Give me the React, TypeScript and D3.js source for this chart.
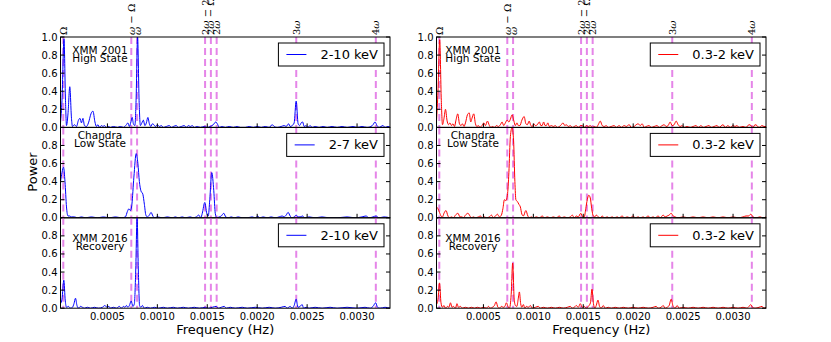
import React from "react";
import * as d3 from "d3";

// frequencies below are in units of 1e-5 Hz
const FREQ_UNIT = 1e-5;
const freqDomain = [3, 333];
const harmonicFreqs = [5.8, 73.9, 79.7, 147.8, 153.6, 159.4, 239.1, 318.8];
const harmonicLabels = [
  [["Ω", false]],
  [["ω", true], [" − Ω", false]],
  [["ω", true]],
  [["2", false], ["ω", true], [" − 2Ω", false]],
  [["2", false], ["ω", true], [" − Ω", false]],
  [["2", false], ["ω", true]],
  [["3", false], ["ω", true]],
  [["4", false], ["ω", true]],
] as [string, boolean][][];
const xTicks = [0.0005, 0.001, 0.0015, 0.002, 0.0025, 0.003];
const yTicksTop = [0, 0.2, 0.4, 0.6, 0.8, 1.0];
const yTicksLower = [0, 0.2, 0.4, 0.6, 0.8];

const panelTitles = [
  ["XMM 2001", "High State"],
  ["Chandra", "Low State"],
  ["XMM 2016", "Recovery"],
];
const hardBands = ["2-10 keV", "2-7 keV", "2-10 keV"];
const softBands = ["0.3-2 keV", "0.3-2 keV", "0.3-2 keV"];

const xmm2001Hard: [number, number][] = [[3,0.05],[4.5,0.3],[6.5,0.98],[8,0.3],[9,0.02],[10.5,0.15],[12.3,0.45],[14,0.1],[15,0.01],[17,0.03],[19,0.01],[21,0.08],[22.5,0.1],[24,0.05],[25.5,0.1],[27,0.02],[29,0.01],[31,0.05],[33.5,0.15],[35.5,0.18],[37.5,0.06],[39,0.01],[40.5,0.03],[42,0.0],[44,0.02],[45.5,0.01],[47,0.02],[49,0.0],[51,0.01],[53,0.0],[56,0.01],[60,0.0],[63,0.01],[66,0.0],[69,0.03],[70.5,0.05],[72,0.01],[73.5,0.06],[74.8,0.11],[76,0.04],[77.5,0.02],[78.7,0.3],[80.2,1.0],[81.7,0.3],[83,0.02],[84.5,0.05],[86,0.08],[87.5,0.02],[89,0.05],[90.5,0.11],[92,0.04],[93.5,0.01],[95,0.04],[96.5,0.03],[98,0.01],[100,0.03],[102,0.01],[104,0.02],[106,0.0],[109,0.01],[112,0.02],[114,0.0],[116,0.01],[119,0.02],[121,0.0],[124,0.01],[127,0.02],[129,0.0],[131,0.02],[133,0.01],[135,0.02],[137,0.0],[140,0.01],[143,0.0],[147,0.01],[150,0.0],[153,0.01],[156,0.03],[158.5,0.06],[160.5,0.03],[162,0.0],[165,0.01],[168,0.0],[172,0.01],[176,0.0],[180,0.01],[183,0.0],[188,0.0],[192,0.01],[196,0.0],[200,0.01],[204,0.0],[208,0.01],[212,0.0],[215,0.03],[217,0.01],[220,0.0],[224,0.01],[227,0.02],[229,0.01],[231.5,0.04],[233,0.01],[235,0.02],[237,0.05],[239,0.29],[241,0.04],[242.5,0.02],[244,0.05],[245.5,0.06],[247,0.01],[249,0.02],[250.5,0.0],[253,0.02],[255,0.0],[258,0.01],[262,0.0],[266,0.01],[270,0.0],[275,0.01],[280,0.0],[285,0.01],[290,0.0],[296,0.01],[300,0.0],[305,0.01],[310,0.0],[314,0.01],[316,0.03],[318,0.06],[320,0.02],[322,0.0],[326,0.02],[328,0.0],[331,0.01],[333,0.0]];

const chandraHard: [number, number][] = [[3,0.4],[4.5,0.5],[6,0.56],[7.5,0.4],[9,0.12],[10.5,0.02],[12,0.02],[14,0.01],[17,0.01],[20,0.0],[24,0.01],[28,0.0],[34,0.01],[40,0.0],[46,0.01],[52,0.0],[58,0.01],[64,0.0],[68,0.01],[70,0.07],[71.5,0.1],[73,0.08],[74.5,0.15],[76.5,0.45],[78.8,0.71],[80.5,0.6],[82,0.4],[83.5,0.3],[85.5,0.26],[87,0.15],[88.5,0.03],[90,0.01],[92,0.03],[93.7,0.06],[95.5,0.02],[97,0.0],[100,0.01],[105,0.0],[110,0.01],[115,0.0],[118,0.01],[121,0.0],[125,0.01],[128,0.0],[133,0.01],[136,0.0],[139,0.01],[141.5,0.03],[143.5,0.0],[145,0.05],[147.5,0.17],[149.5,0.05],[151,0.02],[152.5,0.2],[154.5,0.5],[156.5,0.3],[158,0.05],[159.5,0.0],[162,0.01],[164,0.02],[166.5,0.05],[168.5,0.01],[171,0.0],[174,0.01],[177,0.0],[181,0.01],[185,0.0],[190,0.0],[195,0.01],[198,0.0],[200.5,0.02],[202.5,0.0],[206,0.01],[210,0.0],[214,0.01],[218,0.0],[222,0.01],[225,0.02],[227,0.01],[229,0.03],[231,0.06],[233,0.02],[235,0.0],[237,0.01],[239,0.03],[241,0.01],[243,0.01],[245.5,0.02],[247.5,0.0],[252,0.01],[258,0.0],[265,0.01],[272,0.0],[280,0.0],[290,0.01],[298,0.0],[305,0.01],[309,0.02],[312,0.0],[316,0.01],[319,0.02],[322,0.0],[327,0.01],[333,0.0]];

const xmm2016Hard: [number, number][] = [[3,0.05],[4.5,0.1],[6.3,0.31],[7.8,0.08],[9,0.01],[11,0.02],[13,0.0],[15,0.01],[16.5,0.05],[18,0.11],[19.5,0.03],[21,0.0],[23,0.02],[25,0.01],[27,0.0],[30,0.01],[33,0.0],[37,0.01],[41,0.0],[45,0.01],[47.5,0.03],[49.5,0.01],[51.5,0.02],[53,0.0],[56,0.01],[59,0.0],[62,0.02],[64,0.0],[66,0.02],[67.5,0.01],[69,0.03],[70.5,0.01],[72,0.03],[73.8,0.08],[75.5,0.02],[77,0.05],[78.3,0.4],[79.7,1.0],[81,0.4],[82.2,0.03],[83.5,0.01],[85,0.03],[87,0.0],[90,0.01],[93,0.0],[97,0.01],[101,0.0],[106,0.01],[110,0.0],[116,0.01],[120,0.0],[126,0.01],[131,0.0],[137,0.01],[142,0.0],[148,0.01],[151,0.0],[155,0.01],[159,0.02],[161,0.0],[164,0.01],[167,0.02],[169,0.0],[173,0.01],[178,0.0],[185,0.01],[190,0.0],[198,0.01],[205,0.0],[212,0.01],[218,0.0],[224,0.01],[228,0.02],[230,0.0],[233,0.02],[235,0.0],[237,0.03],[239,0.1],[240.8,0.01],[243,0.02],[245,0.04],[246.5,0.0],[249,0.01],[252,0.0],[258,0.01],[265,0.0],[273,0.01],[280,0.0],[290,0.01],[300,0.0],[308,0.01],[313,0.0],[316,0.02],[318.7,0.06],[320.5,0.01],[323,0.0],[328,0.01],[333,0.0]];

const xmm2001Soft: [number, number][] = [[3,0.07],[4.5,0.4],[6.2,0.97],[7.8,0.3],[9,0.03],[10.5,0.1],[12,0.2],[13.5,0.08],[15,0.03],[16.5,0.05],[18,0.02],[19.5,0.04],[21,0.01],[22.5,0.08],[24.3,0.15],[26,0.04],[27.5,0.02],[29,0.04],[30.5,0.01],[32,0.05],[34,0.14],[35.8,0.16],[37.3,0.06],[38.5,0.1],[40.3,0.15],[42,0.04],[43.5,0.01],[45,0.02],[46.5,0.0],[48.5,0.02],[50.5,0.05],[52,0.02],[54,0.07],[56,0.02],[57.5,0.0],[59,0.01],[61,0.0],[63,0.02],[65,0.01],[67,0.03],[68.7,0.06],[70.3,0.02],[72,0.05],[73.7,0.08],[75.5,0.06],[77,0.09],[78.7,0.14],[80.5,0.07],[82,0.02],[83.5,0.05],[85,0.02],[86.5,0.02],[88.5,0.08],[90.8,0.12],[92.5,0.04],[94,0.03],[95.8,0.07],[97.5,0.02],[99,0.01],[100.5,0.04],[102,0.02],[104,0.03],[106,0.06],[107.5,0.02],[108.8,0.02],[110.3,0.06],[111.8,0.02],[113,0.02],[114.5,0.05],[116,0.01],[118,0.02],[120,0.01],[122,0.02],[124,0.0],[126,0.01],[128,0.03],[129.7,0.05],[131.5,0.02],[133,0.03],[135,0.01],[137,0.02],[139,0.0],[141,0.01],[143,0.02],[145,0.0],[147,0.02],[149,0.02],[151,0.0],[153,0.02],[155,0.01],[157,0.02],[159,0.0],[161,0.01],[163,0.0],[165,0.03],[167,0.07],[169,0.02],[171,0.01],[173,0.02],[175,0.0],[178,0.01],[181,0.02],[183,0.0],[186,0.02],[188,0.0],[191,0.02],[193,0.01],[196,0.03],[198,0.0],[201,0.01],[203,0.03],[205,0.04],[207,0.02],[209,0.04],[211,0.0],[213,0.01],[216,0.02],[218,0.0],[221,0.01],[224,0.02],[226,0.0],[229,0.02],[231,0.03],[233,0.01],[235,0.02],[237,0.06],[239,0.02],[241,0.03],[243,0.07],[245,0.03],[247,0.01],[249,0.02],[251,0.0],[254,0.01],[257,0.0],[260,0.01],[263,0.02],[265,0.0],[268,0.02],[270,0.0],[273,0.01],[276,0.02],[278,0.0],[281,0.01],[284,0.02],[286,0.0],[290,0.03],[292,0.0],[295,0.02],[297,0.0],[300,0.02],[302,0.01],[304,0.02],[306,0.0],[310,0.01],[313,0.0],[316,0.03],[318,0.02],[320,0.0],[322,0.03],[324,0.02],[326,0.0],[329,0.02],[331,0.01],[333,0.01]];

const chandraSoft: [number, number][] = [[3,0.12],[4.5,0.1],[6,0.06],[7.5,0.02],[9,0.01],[10.5,0.05],[12.5,0.08],[14.5,0.02],[16,0.0],[18,0.01],[20,0.0],[22,0.03],[24.5,0.05],[26.5,0.01],[28.5,0.01],[30,0.0],[32,0.03],[34.5,0.05],[36.5,0.02],[38,0.0],[40,0.01],[42,0.0],[45,0.01],[47,0.02],[49,0.0],[51,0.01],[53,0.0],[56,0.01],[58,0.03],[60,0.0],[62,0.02],[64,0.04],[66,0.01],[68,0.03],[69.5,0.1],[71,0.2],[72.5,0.19],[74,0.25],[75.5,0.5],[77,0.9],[78.7,1.0],[80.2,0.85],[81.5,0.4],[82.5,0.2],[84,0.18],[85.5,0.15],[87,0.12],[88.5,0.04],[90,0.02],[92.5,0.08],[94.5,0.02],[96,0.0],[98,0.01],[100,0.0],[103,0.01],[106,0.0],[109,0.02],[111,0.0],[114,0.01],[117,0.0],[120,0.01],[123,0.0],[126,0.02],[128,0.0],[131,0.01],[134,0.0],[137,0.01],[139,0.03],[141,0.0],[143,0.02],[145,0.01],[147.5,0.05],[149.5,0.01],[151,0.01],[152.5,0.1],[154,0.2],[155.5,0.25],[157,0.22],[158.5,0.1],[160,0.02],[161.5,0.01],[163,0.03],[165,0.01],[167,0.0],[169,0.02],[171,0.0],[174,0.01],[176,0.0],[179,0.01],[181,0.0],[184,0.01],[186,0.0],[189,0.02],[191,0.0],[194,0.01],[197,0.0],[200,0.02],[202,0.0],[205,0.01],[207,0.0],[210,0.01],[212,0.0],[215,0.02],[217,0.0],[220,0.01],[222,0.0],[225,0.02],[227,0.0],[230,0.03],[232,0.01],[234,0.02],[236,0.03],[238,0.05],[240,0.02],[242,0.01],[245,0.0],[250,0.01],[255,0.0],[260,0.01],[265,0.0],[270,0.01],[275,0.0],[280,0.01],[285,0.0],[290,0.01],[295,0.0],[300,0.01],[305,0.0],[310,0.01],[313,0.02],[315.5,0.02],[317.8,0.04],[320,0.01],[323,0.0],[327,0.01],[330,0.0],[333,0.01]];

const xmm2016Soft: [number, number][] = [[3,0.04],[4.5,0.1],[6,0.28],[7.5,0.06],[9,0.01],[10.5,0.03],[12,0.0],[14,0.02],[15.5,0.01],[17,0.06],[18.5,0.01],[20,0.02],[22,0.0],[23.5,0.05],[25,0.01],[27,0.02],[29,0.0],[32,0.01],[35,0.0],[38,0.01],[41,0.0],[44,0.01],[47,0.0],[50,0.01],[53,0.0],[55,0.02],[57,0.0],[59,0.01],[61,0.03],[62.7,0.07],[64.5,0.01],[66,0.0],[68,0.02],[70,0.01],[71.5,0.02],[73,0.06],[74.5,0.02],[76,0.0],[77.8,0.15],[79.3,0.5],[80.8,0.1],[82,0.03],[83.5,0.02],[84.8,0.1],[86,0.18],[87.3,0.05],[88.5,0.01],[90,0.04],[91.5,0.0],[93,0.02],[95,0.01],[97,0.03],[99,0.0],[102,0.01],[105,0.02],[107,0.0],[110,0.01],[114,0.0],[118,0.01],[122,0.0],[126,0.01],[130,0.0],[134,0.01],[137,0.02],[139,0.0],[141,0.01],[143,0.03],[145,0.01],[147,0.05],[149,0.01],[151,0.02],[153,0.0],[155,0.02],[157.2,0.06],[158.7,0.21],[160.2,0.05],[161.5,0.0],[163,0.03],[164.7,0.09],[166.3,0.02],[168,0.0],[170,0.03],[172,0.0],[175,0.01],[178,0.0],[182,0.01],[186,0.0],[190,0.01],[195,0.0],[200,0.01],[205,0.0],[210,0.01],[215,0.0],[220,0.01],[223,0.02],[225,0.0],[228,0.01],[230,0.03],[232,0.0],[234,0.01],[236,0.03],[238,0.1],[240,0.02],[242,0.0],[244,0.03],[246,0.0],[250,0.01],[255,0.0],[260,0.01],[265,0.0],[270,0.01],[275,0.0],[280,0.01],[285,0.0],[290,0.01],[295,0.0],[300,0.01],[305,0.0],[310,0.01],[314,0.0],[316,0.02],[317.7,0.04],[319.5,0.01],[322,0.0],[326,0.01],[329,0.02],[331,0.0],[333,0.01]];

const hardSeries = [xmm2001Hard, chandraHard, xmm2016Hard];
const softSeries = [xmm2001Soft, chandraSoft, xmm2016Soft];

const FONT = "DejaVu Sans, sans-serif";
const TOP = 37;
const PH = 90.4;
const titleBaselines = [[17, 25], [11.7, 19.7], [24.3, 32]];
const DASH_COLOR = "#e585e8";

function measure(text: string, size: number) {
  const c = document.createElement("canvas").getContext("2d");
  if (!c) return text.length * size * 0.6;
  c.font = `${size}px DejaVu Sans`;
  return c.measureText(text).width;
}

function Chart({ id, left, right, series, bands, color, titleDx, showYLabel }: any) {
  const x = d3.scaleLinear().domain(freqDomain.map((d) => d * FREQ_UNIT)).range([left, right]);
  const panels = [0, 1, 2];
  return (
    <g>
      {panels.map((i) => {
        const top = TOP + i * PH;
        const bottom = top + PH;
        const y = d3.scaleLinear().domain([0, 1]).range([bottom, top]);
        const line = d3
          .line<[number, number]>()
          .x((d) => x(d[0] * FREQ_UNIT))
          .y((d) => y(d[1]))
          .curve(d3.curveMonotoneX);
        const yTicks = i === 0 ? yTicksTop : yTicksLower;
        const label = bands[i];
        const tw = measure(label, 13);
        const boxR = right - 6;
        const textEnd = boxR - 6;
        const textStart = textEnd - tw;
        const hEnd = textStart - 14;
        const hStart = hEnd - 20;
        const boxL = hStart - 8;
        const boxT = top + 6;
        const boxH = 23;
        const cx = left + titleDx;
        return (
          <g key={i}>
            <clipPath id={`${id}-clip-${i}`}>
              <rect x={left} y={top} width={right - left} height={PH} />
            </clipPath>
            {harmonicFreqs.map((f, k) => (
              <line
                key={k}
                x1={x(f * FREQ_UNIT)}
                x2={x(f * FREQ_UNIT)}
                y1={top}
                y2={bottom}
                stroke={DASH_COLOR}
                strokeWidth={2}
                strokeDasharray="7,4"
              />
            ))}
            <path
              d={line(series[i]) || ""}
              fill="none"
              stroke={color}
              strokeWidth={1}
              clipPath={`url(#${id}-clip-${i})`}
            />
            <rect x={left} y={top} width={right - left} height={PH} fill="none" stroke="#000" strokeWidth={1} />
            {yTicks.map((t) => (
              <g key={t}>
                <line x1={left} x2={left + 4} y1={y(t)} y2={y(t)} stroke="#000" />
                <line x1={right - 4} x2={right} y1={y(t)} y2={y(t)} stroke="#000" />
                <text
                  x={left - 3}
                  y={y(t)}
                  dy="0.35em"
                  textAnchor="end"
                  fontSize={10}
                  fontFamily={FONT}
                >
                  {t.toFixed(1)}
                </text>
              </g>
            ))}
            {xTicks.map((t) => (
              <line key={t} x1={x(t)} x2={x(t)} y1={bottom} y2={bottom - 4} stroke="#000" />
            ))}
            {panelTitles[i].map((s, k) => (
              <text
                key={k}
                x={cx}
                y={top + titleBaselines[i][k]}
                textAnchor="middle"
                fontSize={10.5}
                fontFamily={FONT}
              >
                {s}
              </text>
            ))}
            <rect x={boxL} y={boxT} width={boxR - boxL} height={boxH} fill="#fff" stroke="#000" strokeWidth={1} />
            <line x1={hStart} x2={hEnd} y1={boxT + boxH / 2} y2={boxT + boxH / 2} stroke={color} strokeWidth={1} />
            <text x={textStart} y={boxT + boxH / 2} dy="0.35em" fontSize={13} fontFamily={FONT}>
              {label}
            </text>
          </g>
        );
      })}
      {harmonicFreqs.map((f, k) => {
        const px = x(f * FREQ_UNIT);
        return (
          <text
            key={k}
            x={px}
            y={TOP - 2}
            transform={`rotate(-90, ${px}, ${TOP - 2})`}
            dy="0.35em"
            fontSize={10}
            fontFamily="DejaVu Serif, serif"
          >
            {harmonicLabels[k].map(([s, it], j) => (
              <tspan key={j} fontStyle={it ? "italic" : "normal"}>
                {s}
              </tspan>
            ))}
          </text>
        );
      })}
      {xTicks.map((t) => (
        <text key={t} x={x(t)} y={320} textAnchor="middle" fontSize={10} fontFamily={FONT}>
          {t.toFixed(4)}
        </text>
      ))}
      <text x={(left + right) / 2} y={334} textAnchor="middle" fontSize={13} fontFamily={FONT}>
        Frequency (Hz)
      </text>
      {showYLabel && (
        <text
          x={32}
          y={172}
          transform="rotate(-90, 32, 172)"
          dy="0.35em"
          textAnchor="middle"
          fontSize={13}
          fontFamily={FONT}
        >
          Power
        </text>
      )}
    </g>
  );
}

export default function App() {
  return (
    <svg
      width={831}
      height={342}
      style={{ position: "absolute", left: 0, top: 0, background: "#fff" }}
    >
      <rect width={831} height={342} fill="#fff" />
      <Chart
        id="hard"
        left={60.5}
        right={390}
        series={hardSeries}
        bands={hardBands}
        color="#0000ff"
        titleDx={39.5}
        showYLabel
      />
      <Chart
        id="soft"
        left={436.5}
        right={766}
        series={softSeries}
        bands={softBands}
        color="#ff0000"
        titleDx={36.5}
        showYLabel={false}
      />
    </svg>
  );
}
